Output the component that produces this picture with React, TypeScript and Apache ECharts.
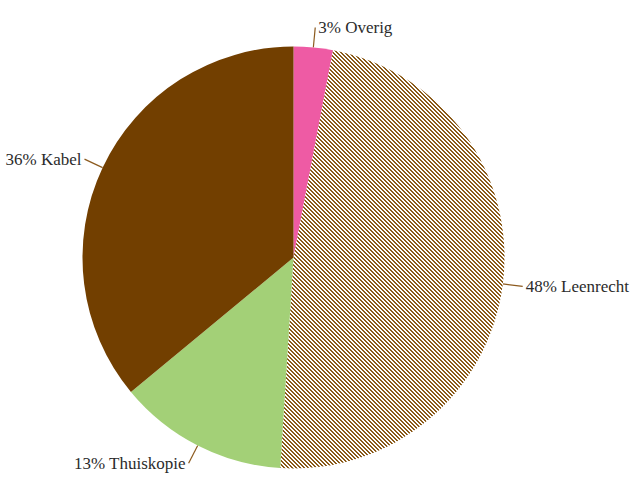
import React, { useEffect, useRef } from "react";
import * as echarts from "echarts";

const categories = ["Overig", "Leenrecht", "Thuiskopie", "Kabel"];
const values = [3, 48, 13, 36];
const colors = ["#ee5ba4", "hatch", "#a3d077", "#723f00"];

function makeHatch(): HTMLCanvasElement {
  const c = document.createElement("canvas");
  c.width = 4;
  c.height = 4;
  const ctx = c.getContext("2d")!;
  ctx.fillStyle = "#ffffff";
  ctx.fillRect(0, 0, 4, 4);
  ctx.fillStyle = "#8a5a19";
  for (let y = 0; y < 4; y++) {
    for (let x = 0; x < 4; x++) {
      const m = (x - y + 8) % 4;
      if (m === 0 || m === 1) ctx.fillRect(x, y, 1, 1);
    }
  }
  return c;
}

export default function App() {
  const ref = useRef<HTMLDivElement>(null);
  useEffect(() => {
    if (!ref.current) return;
    const chart = echarts.init(ref.current, null, { renderer: "svg" });
    const hatch = makeHatch();
    const data = categories.map((name, i) => ({
      name,
      value: values[i],
      itemStyle: {
        color: colors[i] === "hatch" ? { image: hatch, repeat: "repeat" } : colors[i],
      },
    }));
    chart.setOption({
      animation: false,
      backgroundColor: "#ffffff",
      series: [
        {
          type: "pie",
          center: [293.5, 257.5],
          radius: [0, 211],
          startAngle: 90,
          clockwise: true,
          avoidLabelOverlap: false,
          data,
          itemStyle: { borderWidth: 0 },
          label: {
            show: true,
            position: "outside",
            formatter: (p: any) => `${p.value}% ${p.name}`,
            fontFamily: "Liberation Serif",
            fontSize: 17,
            color: "#2b2b2b",
            distanceToLabelLine: 3,
          },
          labelLine: {
            show: true,
            length: 20,
            length2: 0,
            lineStyle: { color: "#8c5a1e", width: 1.2 },
          },
          emphasis: { disabled: true },
        },
      ],
    });
    return () => chart.dispose();
  }, []);
  return (
    <div
      ref={ref}
      style={{ position: "fixed", left: 0, top: 0, width: 635, height: 480 }}
    />
  );
}
